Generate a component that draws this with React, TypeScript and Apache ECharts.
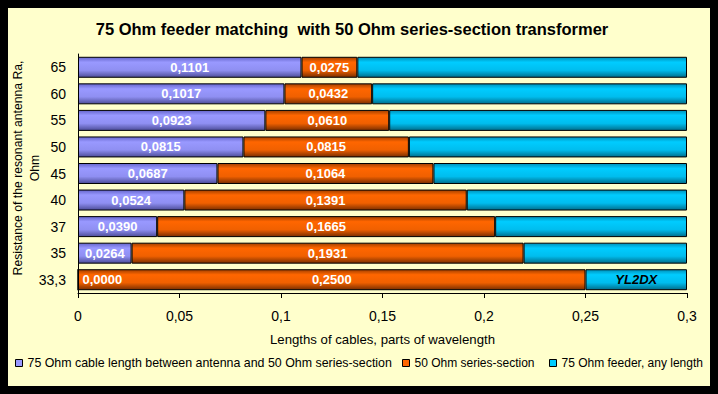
import React, { useEffect, useRef } from "react";
import * as echarts from "echarts";

const categories = ["33,3", "35", "37", "40", "45", "50", "55", "60", "65"];
const cable75Between = [0.0, 0.0264, 0.039, 0.0524, 0.0687, 0.0815, 0.0923, 0.1017, 0.1101];
const series50 = [0.25, 0.1931, 0.1665, 0.1391, 0.1064, 0.0815, 0.061, 0.0432, 0.0275];
const feeder75 = [0.05, 0.0805, 0.0945, 0.1085, 0.1249, 0.137, 0.1467, 0.1551, 0.1624];
const xTicks = { min: 0, max: 0.3, interval: 0.05 };

const seriesNames = [
  "75 Ohm cable length between antenna and 50 Ohm series-section",
  "50 Ohm series-section",
  "75 Ohm feeder, any length",
];
const yAxisTitle = "Resistance of the resonant antenna Ra,\nOhm";

const FONT = "'Liberation Sans', Arial, sans-serif";

function grad(dark: string, light: string, mid: string, darker: string) {
  return new echarts.graphic.LinearGradient(0, 0, 0, 1, [
    { offset: 0, color: dark },
    { offset: 0.25, color: light },
    { offset: 0.65, color: mid },
    { offset: 1, color: darker },
  ]);
}

const flatColors = ["#9999FF", "#FF6600", "#00CCFF"];
const legendLefts = [15, 402, 549];
const legendFonts = [12.4, 12, 12];

export default function App() {
  const ref = useRef<HTMLDivElement>(null);
  useEffect(() => {
    const chart = echarts.init(ref.current!, null, { renderer: "svg" });
    const fmt = (v: number) => v.toFixed(4).replace(".", ",");
    const valLabel = {
      show: true,
      position: "inside",
      color: "#fff",
      fontWeight: "bold",
      fontSize: 13,
      fontFamily: FONT,
      formatter: (p: any) => fmt(p.value),
    };
    chart.setOption({
      animation: false,
      backgroundColor: "#000",
      graphic: [
        {
          type: "rect",
          z: -100,
          silent: true,
          shape: { x: 8, y: 8, width: 702, height: 378 },
          style: { fill: "#FFFFCC" },
        },
        {
          type: "text",
          x: 26,
          y: 168,
          rotation: Math.PI / 2,
          silent: true,
          style: {
            text: yAxisTitle,
            align: "center",
            verticalAlign: "middle",
            fontFamily: FONT,
            fontSize: 12.2,
            lineHeight: 17,
            fill: "#000",
          },
        },
      ],
      title: {
        text: "75 Ohm feeder matching  with 50 Ohm series-section transformer",
        left: 352,
        textAlign: "center",
        top: 20,
        padding: 0,
        textStyle: { fontFamily: FONT, fontSize: 16.5, fontWeight: "bold", color: "#000" },
      },
      legend: seriesNames.map((n, i) => ({
        left: legendLefts[i],
        top: 357,
        padding: 0,
        itemWidth: 7,
        itemHeight: 7,
        icon: "rect",
        textStyle: { fontFamily: FONT, fontSize: legendFonts[i], color: "#000" },
        data: [{ name: n, itemStyle: { color: flatColors[i], borderColor: "#000", borderWidth: 1 } }],
      })),
      grid: { left: 78, right: 31, top: 54, bottom: 101, containLabel: false, outerBoundsMode: "none" },
      xAxis: {
        type: "value",
        min: xTicks.min,
        max: xTicks.max,
        interval: xTicks.interval,
        name: "Lengths of cables, parts of wavelength",
        nameLocation: "middle",
        nameGap: 40,
        nameTextStyle: { fontFamily: FONT, fontSize: 13.2, color: "#000" },
        splitLine: { show: false },
        axisLine: { show: true, lineStyle: { color: "#000", width: 1 } },
        axisTick: { show: true, length: 5, lineStyle: { color: "#000" } },
        axisLabel: {
          fontFamily: FONT,
          fontSize: 14,
          color: "#000",
          margin: 16,
          formatter: (v: number) => String(Math.round(v * 100) / 100).replace(".", ","),
        },
      },
      yAxis: {
        type: "category",
        data: categories,
        axisLine: { show: true, lineStyle: { color: "#000", width: 1 } },
        axisTick: { show: false },
        axisLabel: { fontFamily: FONT, fontSize: 14, color: "#000", margin: 12 },
      },
      series: [
        {
          name: seriesNames[0],
          type: "bar",
          stack: "total",
          barCategoryGap: "21%",
          itemStyle: { color: grad("#6666CC", "#9999FF", "#8F8FF2", "#4D4D99"), borderColor: "#000", borderWidth: 1 },
          label: valLabel,
          data: cable75Between.map((v) =>
            v === 0 ? { value: v, label: { position: "right", distance: 4 } } : v
          ),
        },
        {
          name: seriesNames[1],
          type: "bar",
          stack: "total",
          itemStyle: { color: grad("#A34000", "#FF6600", "#F06000", "#7A2E00"), borderColor: "#000", borderWidth: 1 },
          label: valLabel,
          data: series50,
        },
        {
          name: seriesNames[2],
          type: "bar",
          stack: "total",
          itemStyle: { color: grad("#0090B8", "#00CCFF", "#00BDEE", "#006E8C"), borderColor: "#000", borderWidth: 1 },
          data: feeder75.map((v, i) =>
            i === 0
              ? {
                  value: v,
                  label: {
                    show: true,
                    position: "inside",
                    formatter: "YL2DX",
                    color: "#000",
                    fontStyle: "italic",
                    fontWeight: "bold",
                    fontSize: 13,
                    fontFamily: FONT,
                  },
                }
              : v
          ),
        },
      ],
    });
    return () => chart.dispose();
  }, []);
  return (
    <div
      ref={ref}
      style={{ position: "fixed", left: 0, top: 0, width: 718, height: 394 }}
    />
  );
}
